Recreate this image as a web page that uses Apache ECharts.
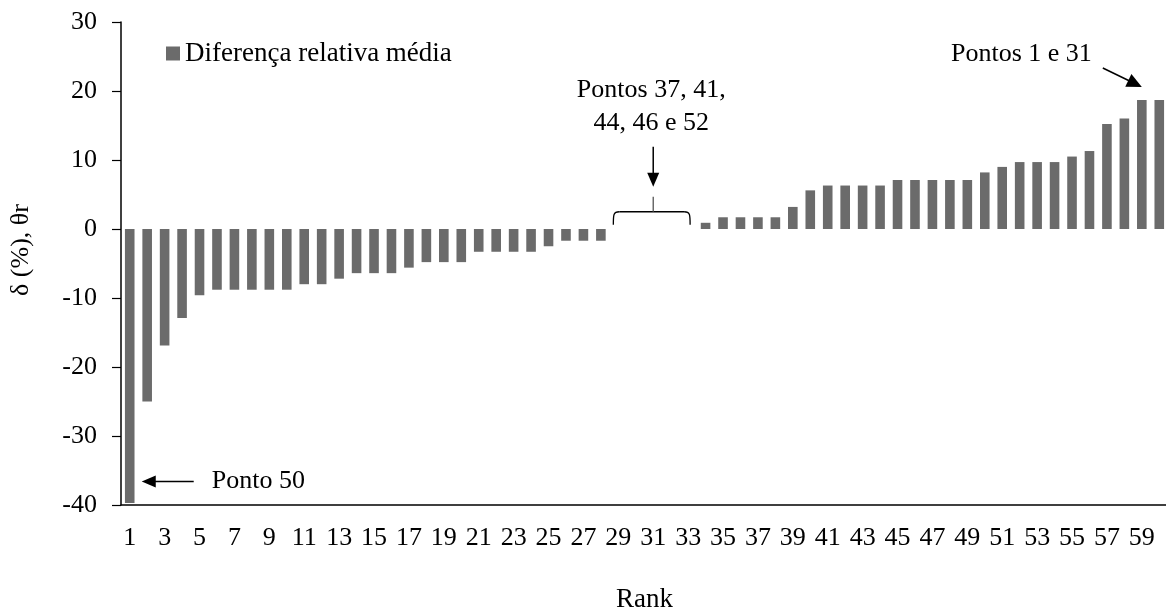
<!DOCTYPE html>
<html>
<head>
<meta charset="utf-8">
<script src="https://cdn.jsdelivr.net/npm/echarts@6/dist/echarts.min.js"></script>
<style>
  html, body { margin: 0; padding: 0; background: #fff; }
  #chart { width: 1166px; height: 610px; }
</style>
</head>
<body>
<div id="chart"></div>
<script>
// rank 1..60
var ranks = ['1','2','3','4','5','6','7','8','9','10','11','12','13','14','15','16','17','18','19','20',
  '21','22','23','24','25','26','27','28','29','30','31','32','33','34','35','36','37','38','39','40',
  '41','42','43','44','45','46','47','48','49','50','51','52','53','54','55','56','57','58','59','60'];

// diferenca relativa media (%)
var diffs = [-39.7, -25.0, -16.9, -12.9, -9.6, -8.8, -8.8, -8.8, -8.8, -8.8,
  -8.0, -8.0, -7.2, -6.4, -6.4, -6.4, -5.6, -4.8, -4.8, -4.8,
  -3.3, -3.3, -3.3, -3.3, -2.5, -1.7, -1.7, -1.7, 0, 0,
  0, 0, 0, 0.9, 1.7, 1.7, 1.7, 1.7, 3.2, 5.6,
  6.3, 6.3, 6.3, 6.3, 7.1, 7.1, 7.1, 7.1, 7.1, 8.2,
  9.0, 9.7, 9.7, 9.7, 10.5, 11.3, 15.2, 16.0, 18.7, 18.7];

var yTicks = { min: -40, max: 30, interval: 10 };

var serif = 'Liberation Serif';
var chart = echarts.init(document.getElementById('chart'));

var option = {
  animation: false,
  textStyle: { fontFamily: serif, color: '#000' },
  grid: { left: 121, right: -2, top: 22, bottom: 105, outerBoundsMode: 'none', containLabel: false },
  legend: {
    left: 166,
    top: 40,
    padding: 0,
    itemWidth: 14,
    itemHeight: 14,
    icon: 'rect',
    textStyle: { fontFamily: serif, fontSize: 27, color: '#000' },
    data: ['Diferença relativa média']
  },
  xAxis: {
    type: 'category',
    data: ranks,
    name: 'Rank',
    nameLocation: 'middle',
    nameGap: 81,
    nameTextStyle: { fontFamily: serif, fontSize: 27, color: '#000' },
    axisLine: { onZero: false, lineStyle: { color: '#000', width: 1.5 } },
    axisTick: { interval: 0, length: 8, lineStyle: { color: '#000', width: 1.2 } },
    axisLabel: { interval: 1, margin: 20, fontFamily: serif, fontSize: 26, color: '#000' },
    splitLine: { show: false }
  },
  yAxis: {
    type: 'value',
    min: yTicks.min,
    max: yTicks.max,
    interval: yTicks.interval,
    name: 'δ (%), θr',
    nameLocation: 'middle',
    nameGap: 87,
    nameTextStyle: { fontFamily: serif, fontSize: 26, color: '#000', padding: [0, 0, 0, 27] },
    axisLine: { show: true, lineStyle: { color: '#000', width: 1.5 } },
    axisTick: { show: true, length: 9, lineStyle: { color: '#000', width: 1.2 } },
    axisLabel: { margin: 24, fontFamily: serif, fontSize: 26, color: '#000' },
    splitLine: { show: false }
  },
  series: [{
    name: 'Diferença relativa média',
    type: 'bar',
    data: diffs,
    barCategoryGap: '45%',
    itemStyle: { color: '#6b6b6b' }
  }]
};
chart.setOption(option);

// annotations, anchored to the bars through the chart's own scales
function arrow(tail, tip, head, half) {
  var dx = tip[0] - tail[0], dy = tip[1] - tail[1];
  var len = Math.sqrt(dx * dx + dy * dy);
  var ux = dx / len, uy = dy / len, nx = -uy, ny = ux;
  var bx = tip[0] - ux * head, by = tip[1] - uy * head;
  return [
    { type: 'line', shape: { x1: tail[0], y1: tail[1], x2: bx + ux * 2, y2: by + uy * 2 },
      style: { stroke: '#000', lineWidth: 1.5 } },
    { type: 'polygon', shape: { points: [tip, [bx + nx * half, by + ny * half], [bx - nx * half, by - ny * half]] },
      style: { fill: '#000' } }
  ];
}

function notes() {
  var p = function (i, v) { return chart.convertToPixel({ gridIndex: 0 }, [i, v]); };
  var els = [];
  var font = '26px "' + serif + '"';
  var stroke = { stroke: '#000', lineWidth: 1.3, fill: null };

  // Ponto 50 (rank 1)
  var a = p(0, -36.6);
  var tipA = [a[0] + 12, a[1]];
  els = els.concat(arrow([tipA[0] + 52, tipA[1]], tipA, 14, 6));
  els.push({ type: 'text', x: tipA[0] + 70, y: tipA[1],
    style: { text: 'Ponto 50', font: font, fill: '#000', verticalAlign: 'middle', align: 'left' } });

  // Pontos 37, 41, 44, 46 e 52 (ranks 29-33, zero)
  var l = p(28, 2.5), r = p(32, 2.5), m = p(30, 2.5);
  var x0 = l[0] - 5, x1 = r[0] + 2, by = m[1];
  els.push({ type: 'bezierCurve',
    shape: { x1: x0, y1: by + 13, cpx1: x0, cpy1: by + 3, cpx2: x0, cpy2: by, x2: x0 + 6, y2: by },
    style: stroke });
  els.push({ type: 'line', shape: { x1: x0 + 6, y1: by, x2: x1 - 6, y2: by }, style: stroke });
  els.push({ type: 'bezierCurve',
    shape: { x1: x1 - 6, y1: by, cpx1: x1, cpy1: by, cpx2: x1, cpy2: by + 3, x2: x1, y2: by + 13 },
    style: stroke });
  els.push({ type: 'line', shape: { x1: m[0], y1: by, x2: m[0], y2: by - 15 },
    style: { stroke: '#555', lineWidth: 1.3 } });
  els = els.concat(arrow([m[0], by - 65], [m[0], by - 25], 14, 6));
  els.push({ type: 'text', x: m[0] - 2, y: by - 105,
    style: { text: 'Pontos 37, 41,\n44, 46 e 52', font: font, fill: '#000', align: 'center',
      verticalAlign: 'middle', lineHeight: 33 } });

  // Pontos 1 e 31 (rank 59)
  var c = p(58, 18.7);
  var tipC = [c[0], c[1] - 13];
  var tailC = [tipC[0] - 39, tipC[1] - 19];
  els = els.concat(arrow(tailC, tipC, 15, 7));
  els.push({ type: 'text', x: tailC[0] - 11, y: tailC[1] - 14,
    style: { text: 'Pontos 1 e 31', font: font, fill: '#000', align: 'right', verticalAlign: 'middle' } });

  chart.setOption({ graphic: els });
}
notes();
</script>
</body>
</html>
